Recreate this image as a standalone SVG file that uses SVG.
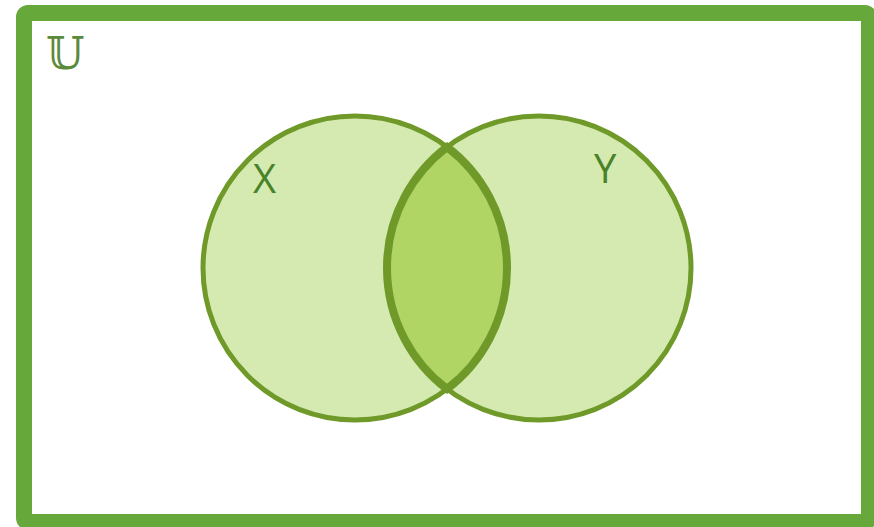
<svg xmlns="http://www.w3.org/2000/svg" width="874" height="527" viewBox="0 0 874 527">
<style>
.set{fill:#d5eab0;stroke:#6f9a29;stroke-width:5}
.lens{fill:#b0d565;stroke:#6f9a29;stroke-width:8}
.lbl{font-family:"Open Sans","DejaVu Sans",sans-serif;font-size:40px;fill:#4a822a}
</style>
<rect width="874" height="527" fill="#ffffff"/>
<g id="universe">
<rect x="24" y="13" width="845" height="509" rx="4" fill="#ffffff" stroke="#66a83a" stroke-width="16"/>
<text x="46" y="69" font-family="DejaVu Serif, serif" font-size="44" fill="#5a8a3a">𝕌</text>
</g>
<g id="setX">
<circle class="set" cx="355" cy="268" r="152"/>
</g>
<g id="setY">
<circle class="set" cx="539" cy="268" r="152"/>
</g>
<g id="intersection">
<path class="lens" d="M447,147 A152,152 0 0,1 447,389 A152,152 0 0,1 447,147 Z"/>
</g>
<g id="labels">
<text class="lbl" x="253" y="193">X</text>
<text class="lbl" x="594" y="183">Y</text>
</g>
</svg>
